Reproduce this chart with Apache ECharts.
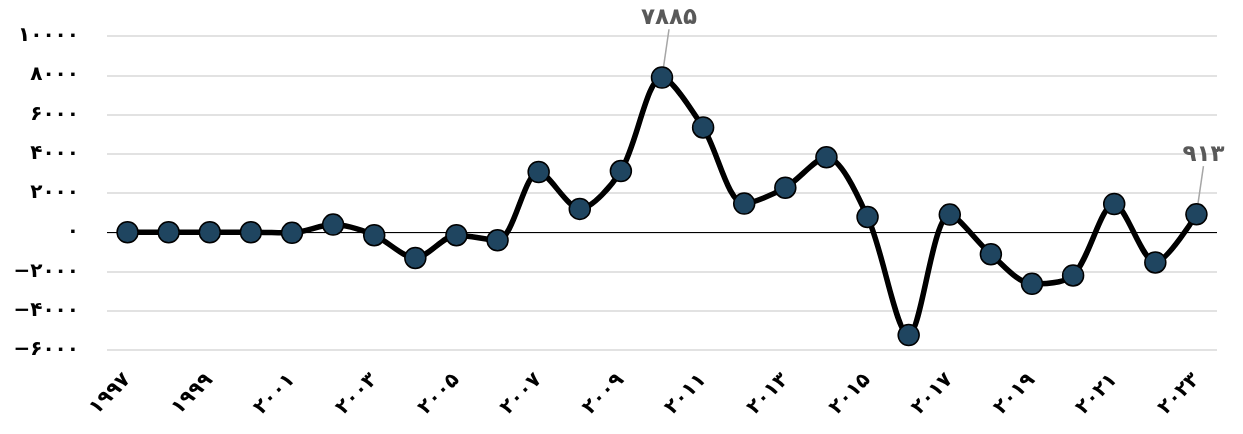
<!DOCTYPE html>
<html>
<head>
<meta charset="utf-8">
<title>chart</title>
<script src="https://cdn.jsdelivr.net/npm/echarts@6/dist/echarts.min.js"></script>
<style>
  html, body { margin: 0; padding: 0; background: #fff; }
  #chart { width: 1243px; height: 434px; }
</style>
</head>
<body>
<div id="chart"></div>
<script>
// data
const years = [1997, 1998, 1999, 2000, 2001, 2002, 2003, 2004, 2005, 2006, 2007, 2008, 2009,
  2010, 2011, 2012, 2013, 2014, 2015, 2016, 2017, 2018, 2019, 2020, 2021, 2022, 2023]
const values = [0, 0, 0, 0, -30, 390, -150, -1310, -150, -410, 3070, 1190, 3120,
  7885, 5340, 1460, 2270, 3820, 780, -5240, 900, -1120, -2630, -2200, 1440, -1540, 913]
const labelledYears = [2010, 2023]
const yMin = -6000
const yMax = 10000
const yStep = 2000

const faDigits = '۰۱۲۳۴۵۶۷۸۹'
function toFa(n) {
  const s = String(Math.abs(n)).replace(/\d/g, d => faDigits[d])
  return n < 0 ? '−' + s : s
}

const font = "'DejaVu Sans', sans-serif"

const seriesData = values.map((v, i) => {
  if (labelledYears.indexOf(years[i]) === -1) return v
  return {
    value: v,
    label: { show: true },
    labelLine: { show: true }
  }
})

const chart = echarts.init(document.getElementById('chart'))
chart.setOption({
  animation: false,
  grid: { left: 107, right: 26, top: 36, bottom: 84 },
  xAxis: {
    type: 'category',
    data: years,
    boundaryGap: true,
    axisLine: { show: false },
    axisTick: { show: false },
    axisLabel: {
      interval: 1,
      rotate: 45,
      margin: 27,
      color: '#000',
      fontFamily: font,
      fontWeight: 'bold',
      fontSize: 20,
      formatter: v => toFa(v)
    }
  },
  yAxis: {
    type: 'value',
    min: yMin,
    max: yMax,
    interval: yStep,
    axisLine: { show: false },
    axisTick: { show: false },
    splitLine: { lineStyle: { color: '#d9d9d9', width: 1.5 } },
    axisLabel: {
      margin: 28,
      color: '#000',
      fontFamily: font,
      fontWeight: 'bold',
      fontSize: 20,
      formatter: v => toFa(v)
    }
  },
  series: [{
    type: 'line',
    data: seriesData,
    smooth: 0.3,
    symbol: 'circle',
    symbolSize: 21,
    lineStyle: { color: '#000', width: 5.5 },
    itemStyle: { color: '#1f4560', borderColor: '#000', borderWidth: 1.5 },
    label: {
      show: false,
      position: 'top',
      color: '#595959',
      fontFamily: font,
      fontWeight: 'bold',
      fontSize: 23,
      formatter: p => toFa(p.value)
    },
    labelLayout: { dx: 7, dy: -32 },
    labelLine: { show: false, lineStyle: { color: '#a6a6a6', width: 1.5 } },
    markLine: {
      silent: true,
      symbol: 'none',
      label: { show: false },
      lineStyle: { color: '#000', width: 1.2, type: 'solid' },
      data: [{ yAxis: 0 }],
      z: 1
    },
    z: 3
  }]
})
</script>
</body>
</html>
